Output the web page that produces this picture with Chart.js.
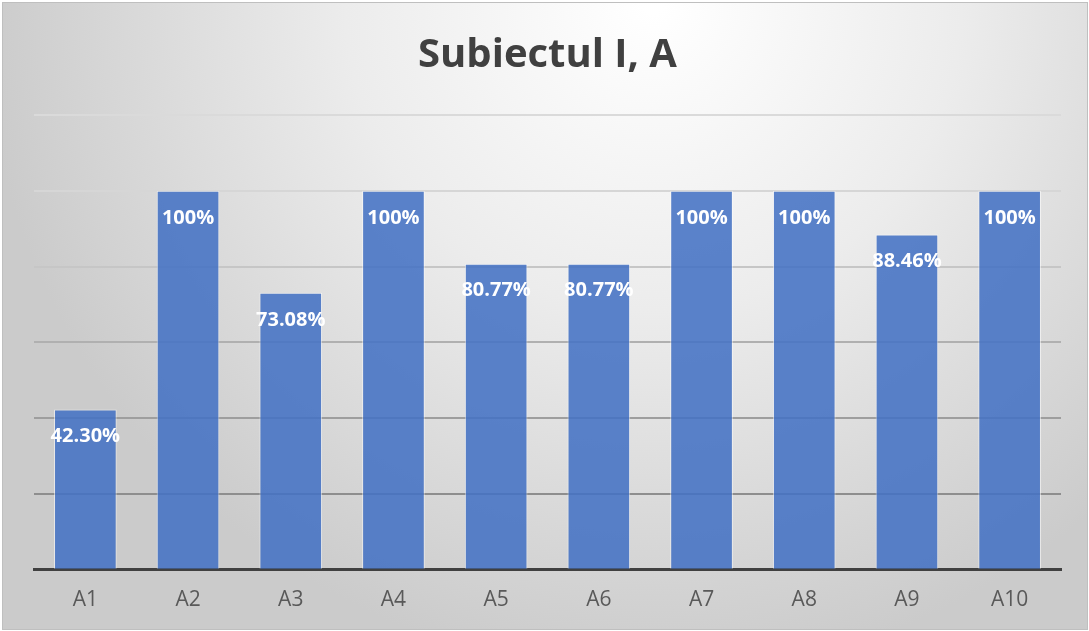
<!DOCTYPE html>
<html>
<head>
<meta charset="utf-8">
<script src="https://cdn.jsdelivr.net/npm/chart.js@4/dist/chart.umd.min.js"></script>
<style>
    html, body { margin: 0; padding: 0; background: #ffffff; }
    #wrap { position: absolute; left: 2px; top: 2px; width: 1084px; height: 626px; border: 1px solid #bfbfbf; }
</style>
</head>
<body>
<div id="wrap"><canvas id="myChart" width="1084" height="626"></canvas></div>
<script>
const categorii = ["A1", "A2", "A3", "A4", "A5", "A6", "A7", "A8", "A9", "A10"];
const procente = [42.30, 100, 73.08, 100, 80.77, 80.77, 100, 100, 88.46, 100];
const etichete = ["42.30%", "100%", "73.08%", "100%", "80.77%", "80.77%", "100%", "100%", "88.46%", "100%"];
const titlu = "Subiectul I, A";

// culori grila: mai deschise sus, mai inchise jos
const culoriGrila = ["#8e8e8e", "#8e8e8e", "#9e9e9e", "#b0b0b0", "#c6c6c6", "#d6d6d6", "#dadada"];

const fundal = {
    id: "fundal",
    beforeDraw(chart) {
        const ctx = chart.ctx;
        const w = chart.width, h = chart.height;
        ctx.save();
        const g = ctx.createRadialGradient(w * 0.6, 0, 10, w * 0.6, 0, w * 0.62);
        g.addColorStop(0, "#ffffff");
        g.addColorStop(0.45, "#ececec");
        g.addColorStop(1, "#cbcbcb");
        ctx.fillStyle = g;
        ctx.fillRect(0, 0, w, h);
        ctx.restore();
    }
};

const valori = {
    id: "valori",
    afterDatasetsDraw(chart) {
        const ctx = chart.ctx;
        const meta = chart.getDatasetMeta(0);
        ctx.save();
        ctx.font = "bold 20px 'Open Sans', sans-serif";
        ctx.fillStyle = "#ffffff";
        ctx.textAlign = "center";
        ctx.textBaseline = "middle";
        meta.data.forEach((bar, i) => {
            ctx.fillText(etichete[i], bar.x, bar.y + 27);
        });
        ctx.restore();
    }
};

const ctx = document.getElementById('myChart').getContext('2d');

new Chart(ctx, {
    type: "bar",
    data: {
        labels: categorii,
        datasets: [
            {
                label: titlu,
                data: procente,
                backgroundColor: "rgba(68, 114, 196, 0.88)",
                borderColor: "rgba(255, 255, 255, 0.55)",
                borderWidth: 1,
                categoryPercentage: 1,
                barPercentage: 0.61,
            },
        ],
    },
    options: {
        responsive: false,
        animation: false,
        layout: {
            padding: { left: 31, right: 26, top: 0, bottom: 6 },
        },
        plugins: {
            legend: { display: false },
            tooltip: { enabled: false },
            title: {
                display: true,
                text: titlu,
                color: "#404040",
                font: { size: 40, weight: "bold", family: "'Open Sans', sans-serif" },
                padding: { top: 29, bottom: 35 },
            },
        },
        scales: {
            x: {
                grid: { display: false },
                border: { color: "#404040", width: 3 },
                ticks: {
                    color: "#595959",
                    padding: 10,
                    font: { size: 21, family: "'Open Sans', sans-serif" },
                },
            },
            y: {
                min: 0,
                max: 120,
                ticks: { display: false, stepSize: 20 },
                border: { display: false },
                grid: {
                    color: (c) => culoriGrila[c.index] || "#cccccc",
                    lineWidth: 2,
                    drawTicks: false,
                },
            },
        },
    },
    plugins: [fundal, valori],
});
</script>
</body>
</html>
